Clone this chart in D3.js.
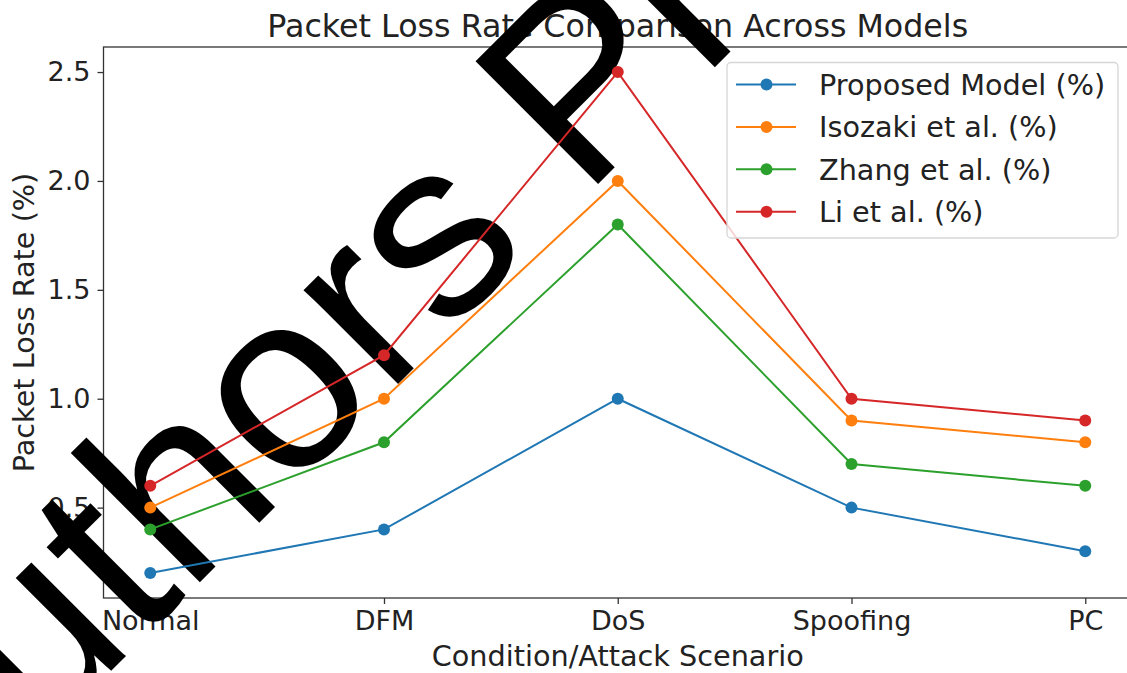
<!DOCTYPE html>
<meta charset="utf-8">
<style>
body { margin: 0; background: #fff; }
svg text { font-family: "DejaVu Sans", sans-serif; fill: #222; }
.axis path, .axis line { stroke: #333; stroke-width: 1.3; }
</style>
<body>
<script src="https://d3js.org/d3.v7.min.js"></script>
<script>

// the chart values
var scenarios = ["Normal", "DFM", "DoS", "Spoofing", "PC"];
var proposed = [0.2, 0.4, 1.0, 0.5, 0.3];
var isozaki  = [0.5, 1.0, 2.0, 0.9, 0.8];
var zhang    = [0.4, 0.8, 1.8, 0.7, 0.6];
var li       = [0.6, 1.2, 2.5, 1.0, 0.9];
var seriesNames = ["Proposed Model (%)", "Isozaki et al. (%)", "Zhang et al. (%)", "Li et al. (%)"];
var yTicks = [0.5, 1.0, 1.5, 2.0, 2.5];

var colors = ["#1f77b4", "#ff7f0e", "#2ca02c", "#d62728"];
var series = [proposed, isozaki, zhang, li];

// plot area (right spine falls just outside the window)
var pLeft = 103.5, pRight = 1132, pTop = 47, pBottom = 598;

var svg = d3.select("body").append("svg")
    .attr("width", 1127)
    .attr("height", 673);

// set the ranges
var x = d3.scalePoint().domain(scenarios).range([pLeft, pRight]).padding(0.2);
var y = d3.scaleLinear().domain([0.085, 2.615]).range([pBottom, pTop]);

// frame
svg.append("rect")
    .attr("x", pLeft).attr("y", pTop)
    .attr("width", pRight - pLeft).attr("height", pBottom - pTop)
    .attr("fill", "none")
    .attr("stroke", "#333")
    .attr("stroke-width", 1.3);

// x axis
var gx = svg.append("g")
    .attr("class", "axis")
    .attr("transform", "translate(0," + pBottom + ")")
    .call(d3.axisBottom(x).tickSize(6).tickPadding(7).tickSizeOuter(0));
gx.select(".domain").remove();
gx.selectAll("text").style("font-size", "27px").attr("fill", "#222");

// y axis
var gy = svg.append("g")
    .attr("class", "axis")
    .attr("transform", "translate(" + pLeft + ",0)")
    .call(d3.axisLeft(y).tickValues(yTicks).tickFormat(d3.format(".1f"))
      .tickSize(6).tickPadding(7).tickSizeOuter(0));
gy.select(".domain").remove();
gy.selectAll("text").style("font-size", "27px").attr("fill", "#222");

// axis labels and title
svg.append("text")
    .attr("x", (pLeft + pRight) / 2)
    .attr("y", 666)
    .attr("text-anchor", "middle")
    .style("font-size", "28.7px")
    .text("Condition/Attack Scenario");

svg.append("text")
    .attr("transform", "translate(34," + ((pTop + pBottom) / 2) + ") rotate(-90)")
    .attr("text-anchor", "middle")
    .style("font-size", "28.7px")
    .text("Packet Loss Rate (%)");

svg.append("text")
    .attr("x", (pLeft + pRight) / 2)
    .attr("y", 37)
    .attr("text-anchor", "middle")
    .style("font-size", "31.7px")
    .text("Packet Loss Rate Comparison Across Models");

// preprint stamp across the figure
svg.append("text")
    .attr("transform", "translate(-80,862) rotate(-45)")
    .style("font-family", "'Liberation Sans', Arial, sans-serif")
    .style("font-size", "252px")
    .style("fill", "#000")
    .text("Authors Preprint");

// define the line
var valueline = d3.line()
    .x(function(d, i) { return x(scenarios[i]); })
    .y(function(d) { return y(d); });

series.forEach(function(s, k) {
  svg.append("path")
      .datum(s)
      .attr("d", valueline)
      .attr("fill", "none")
      .attr("stroke", colors[k])
      .attr("stroke-width", 2);

  svg.selectAll(".dot" + k)
      .data(s)
    .enter().append("circle")
      .attr("r", 6)
      .attr("cx", function(d, i) { return x(scenarios[i]); })
      .attr("cy", function(d) { return y(d); })
      .attr("fill", colors[k]);
});

// legend
var lg = svg.append("g");
lg.append("rect")
    .attr("x", 727).attr("y", 62.5)
    .attr("width", 391).attr("height", 175.5)
    .attr("rx", 4)
    .attr("fill", "#fff")
    .attr("fill-opacity", 0.8)
    .attr("stroke", "#d6d6d6")
    .attr("stroke-width", 1.3);

seriesNames.forEach(function(name, k) {
  var ry = 84.5 + k * 42.4;
  lg.append("line")
      .attr("x1", 736).attr("x2", 796)
      .attr("y1", ry).attr("y2", ry)
      .attr("stroke", colors[k])
      .attr("stroke-width", 2);
  lg.append("circle")
      .attr("cx", 766.5).attr("cy", ry)
      .attr("r", 6)
      .attr("fill", colors[k]);
  lg.append("text")
      .attr("x", 819)
      .attr("y", ry)
      .attr("dy", "0.36em")
      .style("font-size", "28.7px")
      .text(name);
});

</script>
</body>
